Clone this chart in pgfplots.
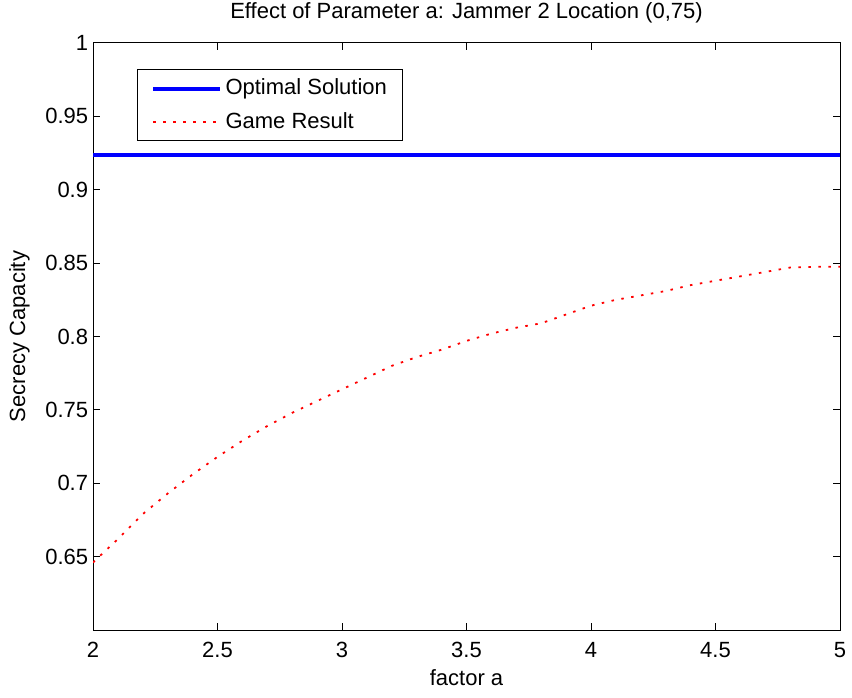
\documentclass[border=0pt]{standalone}
\usepackage{fontspec}
\setmainfont{Liberation Sans}
\usepackage{pgfplots}
\pgfplotsset{compat=1.18}
\usetikzlibrary{calc}
\begin{document}
\fontsize{22}{26}\selectfont
\begin{tikzpicture}
\begin{axis}[
  scale only axis,
  width=747pt, height=587pt,
  xmin=2, xmax=5, ymin=0.6, ymax=1,
  xtick={2,2.5,3,3.5,4,4.5,5},
  ytick={0.65,0.7,0.75,0.8,0.85,0.9,0.95,1},
  tick align=inside,
  major tick length=7pt,
  axis line style={line width=1pt},
  every tick/.style={black, line width=1pt},
  /pgf/number format/assume math mode=true,
  ticklabel style={font=\fontsize{22}{26}\selectfont},
  xticklabel style={anchor=base, yshift=-27.7pt},
  yticklabel style={anchor=east, inner sep=0pt, xshift=-4.7pt},
  title={Effect of Parameter a: Jammer 2 Location (0,75)},
  title style={at={(axis description cs:0.5,1)}, anchor=base, yshift=18pt, font=\fontsize{22}{26}\selectfont},
  xlabel={factor a},
  xlabel style={at={(axis description cs:0.5,0)}, anchor=base, yshift=-55pt, font=\fontsize{22}{26}\selectfont},
  ylabel={Secrecy Capacity},
  ylabel style={at={(axis description cs:-0.0910,0.5)}, anchor=base, font=\fontsize{22}{26}\selectfont},
  legend style={at={(axis description cs:0.0589,0.955)}, anchor=north west, draw=black, line width=1pt, fill=white,
    font=\fontsize{22}{26}\selectfont, inner xsep=14pt, inner ysep=7pt, row sep=10pt, column sep=2pt},
  legend cell align=left,
  legend image code/.code={\draw[#1] (0pt,0pt) -- (66pt,0pt);},
]
\addplot[blue, line width=4pt] coordinates {(2,0.9235) (5,0.9235)};
\addlegendentry{Optimal Solution}
\addplot[red, line width=1.8pt, dash pattern=on 2.5pt off 7.5pt] coordinates {
(2.0,0.646) (2.1,0.662) (2.2,0.679) (2.3,0.693) (2.4,0.706) (2.5,0.718)
(2.6,0.729) (2.7,0.739) (2.8,0.748) (2.9,0.756) (3.0,0.764) (3.1,0.772)
(3.2,0.780) (3.3,0.786) (3.4,0.791) (3.5,0.797) (3.6,0.802) (3.7,0.806)
(3.8,0.809) (3.9,0.815) (4.0,0.821) (4.1,0.825) (4.2,0.828) (4.3,0.831)
(4.4,0.835) (4.5,0.838) (4.6,0.841) (4.7,0.844) (4.8,0.847) (4.9,0.8475)
(5.0,0.8475)};
\addlegendentry{Game Result}
\end{axis}
\pgfresetboundingbox
\path[use as bounding box] ($(current axis.south west)+(-93pt,-67pt)$) rectangle ($(current axis.north east)+(12pt,43pt)$);
\end{tikzpicture}
\end{document}
